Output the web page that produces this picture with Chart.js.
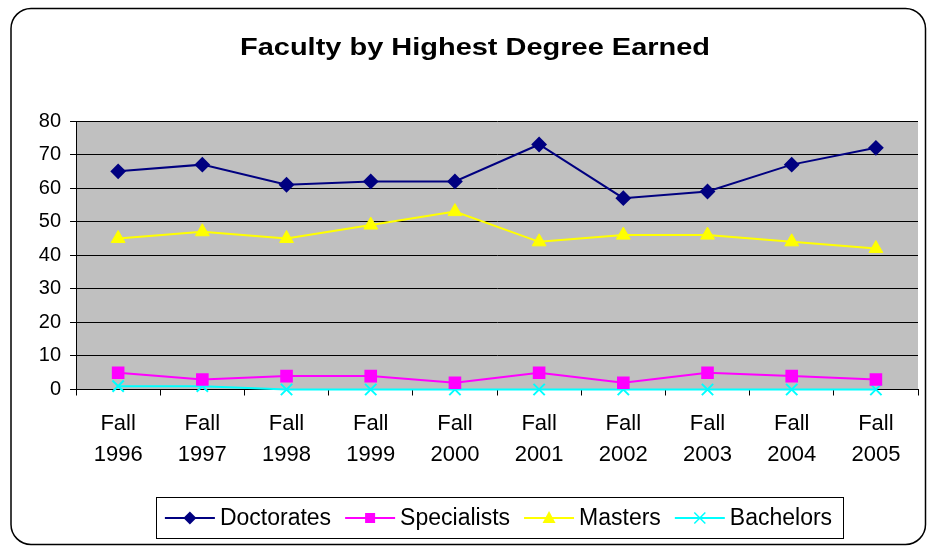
<!DOCTYPE html>
<html>
<head>
<meta charset="utf-8">
<script src="https://cdn.jsdelivr.net/npm/chart.js@4.4.0/dist/chart.umd.min.js"></script>
<style>
  html, body { margin: 0; padding: 0; background: #fff; }
</style>
</head>
<body>
<canvas id="degreeChart" width="928" height="547"></canvas>
<script>
// === DATA ===
const years = ["1996", "1997", "1998", "1999", "2000", "2001", "2002", "2003", "2004", "2005"];
const doctorates = [65, 67, 61, 62, 62, 73, 57, 59, 67, 72];
const specialists = [5, 3, 4, 4, 2, 5, 2, 5, 4, 3];
const masters = [45, 47, 45, 49, 53, 44, 46, 46, 44, 42];
const bachelors = [1, 1, 0, 0, 0, 0, 0, 0, 0, 0];
const yTicks = [0, 10, 20, 30, 40, 50, 60, 70, 80];
const chartTitle = "Faculty by Highest Degree Earned";

const FONT = "'Liberation Sans', Arial, sans-serif";

// marker shapes used in the legend
function drawMarker(g, style, x, y, color) {
  g.fillStyle = color; g.strokeStyle = color;
  g.beginPath();
  if (style === "rectRot") {
    g.moveTo(x, y - 6.5); g.lineTo(x + 6.5, y); g.lineTo(x, y + 6.5); g.lineTo(x - 6.5, y); g.closePath(); g.fill();
  } else if (style === "rect") {
    g.fillRect(x - 5, y - 5, 10, 10);
  } else if (style === "triangle") {
    g.moveTo(x, y - 7); g.lineTo(x + 6.5, y + 5); g.lineTo(x - 6.5, y + 5); g.closePath(); g.fill();
  } else {
    g.lineWidth = 1.5;
    g.moveTo(x - 5.5, y - 5.5); g.lineTo(x + 5.5, y + 5.5);
    g.moveTo(x + 5.5, y - 5.5); g.lineTo(x - 5.5, y + 5.5); g.stroke();
  }
}

const decor = {
  id: "decor",
  beforeDraw(chart) {
    const { ctx, chartArea: a } = chart;
    ctx.save();
    ctx.fillStyle = "#C0C0C0";
    ctx.fillRect(a.left, a.top, a.right - a.left, a.bottom - a.top);
    ctx.restore();
  },
  afterDraw(chart) {
    const ctx = chart.ctx;
    ctx.save();
    // outer rounded frame
    ctx.strokeStyle = "#000"; ctx.lineWidth = 1.5;
    ctx.beginPath();
    ctx.roundRect(11, 8.5, 914.5, 536, 20);
    ctx.stroke();

    // title (wide bold face, as in the original)
    ctx.fillStyle = "#000";
    ctx.font = "bold 24px " + FONT;
    ctx.textBaseline = "alphabetic";
    ctx.textAlign = "left";
    const tw = ctx.measureText(chartTitle).width;
    const sx = 470 / tw;
    ctx.save();
    ctx.translate(240, 54.5);
    ctx.scale(sx, 1);
    ctx.fillText(chartTitle, 0, 0);
    ctx.restore();

    // legend with line + marker samples
    ctx.font = "23px " + FONT;
    ctx.textBaseline = "middle";
    const ds = chart.data.datasets;
    const iconW = 50, gapIT = 5, gapTI = 14;
    const widths = ds.map(d => ctx.measureText(d.label).width);
    let total = 0;
    widths.forEach((w, i) => { total += iconW + gapIT + w + (i < ds.length - 1 ? gapTI : 0); });
    let x = 498.5 - total / 2;
    const y = 518;
    ctx.lineWidth = 1;
    ctx.strokeStyle = "#000";
    ctx.strokeRect(Math.round(x - 9) + 0.5, 497.5, Math.round(total + 20), 41);
    ds.forEach((d, i) => {
      ctx.strokeStyle = d.borderColor; ctx.lineWidth = 2;
      ctx.beginPath(); ctx.moveTo(x, y); ctx.lineTo(x + iconW, y); ctx.stroke();
      drawMarker(ctx, d.pointStyle, x + iconW / 2, y, d.borderColor);
      ctx.fillStyle = "#000";
      ctx.fillText(d.label, x + iconW + gapIT, y + 1);
      x += iconW + gapIT + widths[i] + gapTI;
    });
    ctx.restore();
  }
};

new Chart(document.getElementById("degreeChart"), {
  type: "line",
  data: {
    labels: years.map(y => ["Fall", y]),
    datasets: [
      { label: "Doctorates", data: doctorates, borderColor: "#000080", backgroundColor: "#000080",
        pointStyle: "rectRot", pointRadius: 6.5, borderWidth: 2, clip: false },
      { label: "Specialists", data: specialists, borderColor: "#FF00FF", backgroundColor: "#FF00FF",
        pointStyle: "rect", pointRadius: 7.5, borderWidth: 2, clip: false },
      { label: "Masters", data: masters, borderColor: "#FFFF00", backgroundColor: "#FFFF00",
        pointStyle: "triangle", pointRadius: 8, borderWidth: 2, pointBorderWidth: 1, clip: false },
      { label: "Bachelors", data: bachelors, borderColor: "#00FFFF", backgroundColor: "#00FFFF",
        pointStyle: "crossRot", pointRadius: 8, borderWidth: 2, pointBorderWidth: 2, clip: false }
    ]
  },
  options: {
    responsive: false,
    animation: false,
    layout: { padding: { left: 29.8, right: 6, top: 121, bottom: 64.5 } },
    plugins: {
      title: { display: false },
      legend: { display: false },
      tooltip: { enabled: false }
    },
    scales: {
      x: {
        offset: true,
        border: { color: "#000", width: 1 },
        grid: { offset: true, drawOnChartArea: false, drawTicks: true, tickLength: 6, color: "#000" },
        ticks: { color: "#000", font: { family: FONT, size: 22, lineHeight: 31 / 22 }, maxRotation: 0, padding: 12.5 }
      },
      y: {
        min: 0, max: 80,
        afterBuildTicks(axis) { axis.ticks = yTicks.map(v => ({ value: v })); },
        border: { color: "#000", width: 1 },
        grid: { color: "#000", lineWidth: 1, tickLength: 6 },
        ticks: { color: "#000", font: { family: FONT, size: 20 }, padding: 9 }
      }
    }
  },
  plugins: [decor]
});
</script>
</body>
</html>
